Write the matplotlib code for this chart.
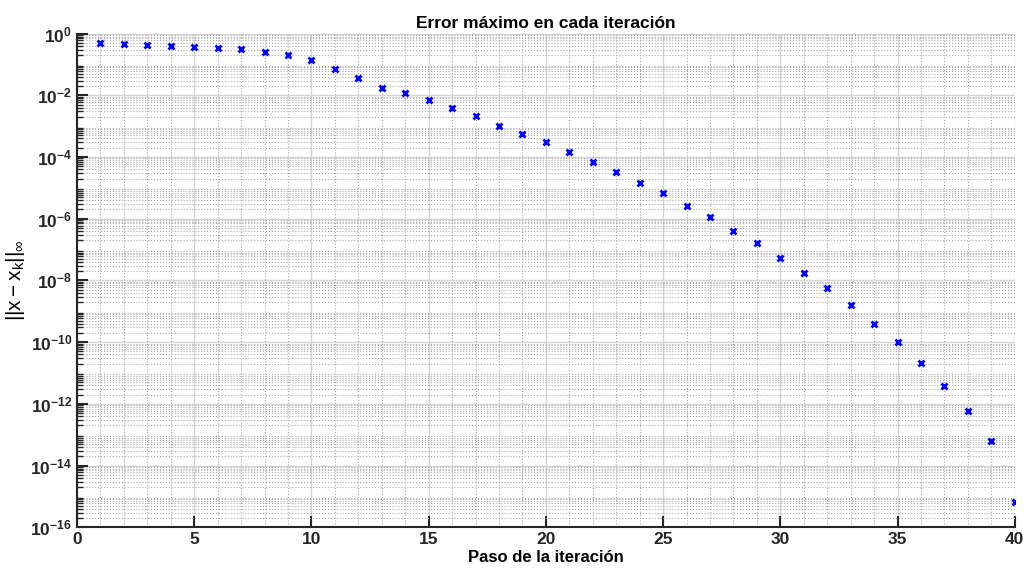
import numpy as np
import matplotlib
matplotlib.use('Agg')
import matplotlib.pyplot as plt
from matplotlib.ticker import LogLocator, MultipleLocator, FixedLocator, NullFormatter

plt.rcParams['font.family'] = ['Liberation Sans', 'DejaVu Sans']
plt.rcParams['mathtext.fontset'] = 'custom'
plt.rcParams['mathtext.rm'] = 'Liberation Sans'
plt.rcParams['mathtext.it'] = 'Liberation Sans'
plt.rcParams['mathtext.bf'] = 'Liberation Sans:bold'

# datos
pasos = np.arange(1, 41)
error = [0.48, 0.457, 0.434, 0.40, 0.373, 0.339, 0.307, 0.257, 0.201, 0.135,
         0.0734, 0.0353, 0.0175, 0.0115, 0.00699, 0.00394, 0.00212, 0.00102, 5.5e-4, 2.97e-4,
         1.41e-4, 6.8e-5, 3.3e-5, 1.4e-5, 6.6e-6, 2.6e-6, 1.1e-6, 4.1e-7, 1.6e-7, 5.4e-8,
         1.7e-8, 5.5e-9, 1.58e-9, 4.0e-10, 9.8e-11, 2.1e-11, 3.7e-12, 5.8e-13, 6.3e-14, 6.5e-16]

yticks = [10.0**e for e in range(0, -17, -2)]
ylabels = [r'$\mathbf{10^{%d}}$' % e for e in range(0, -17, -2)]
xticks = [0, 5, 10, 15, 20, 25, 30, 35, 40]

fig = plt.figure(figsize=(10.24, 5.76), dpi=100)
ax = fig.add_axes([0.0752, 0.0845, 0.9158, 0.8573])

ax.semilogy(pasos, error, 'x', color='blue', markersize=5, markeredgewidth=2)

ax.set_xlim(0, 40)
ax.set_ylim(1e-16, 1)
ax.set_xticks(xticks)
ax.xaxis.set_minor_locator(MultipleLocator(1))
ax.yaxis.set_major_locator(FixedLocator(yticks))
ax.set_yticklabels(ylabels)
ax.yaxis.set_minor_locator(LogLocator(base=10, subs=np.arange(2, 10), numticks=100))
ax.yaxis.set_minor_formatter(NullFormatter())

ax.grid(True, which='major', color='#d4d4d4', linestyle='-', linewidth=1.0)
ax.grid(True, which='minor', color='#aaaaaa', linestyle=':', linewidth=0.8)
ax.set_axisbelow(True)

for s in ['top', 'right']:
    ax.spines[s].set_visible(False)
for s in ['left', 'bottom']:
    ax.spines[s].set_linewidth(1.5)
    ax.spines[s].set_color('#262626')

ax.tick_params(which='major', direction='in', length=8, width=1.5, colors='#262626',
               labelsize=12.5)
ax.tick_params(axis='y', which='minor', direction='in', length=4, width=1.0, colors='#262626')
ax.tick_params(axis='x', which='minor', length=0)
for lab in ax.get_xticklabels():
    lab.set_fontweight('bold')

ax.set_title('Error máximo en cada iteración', fontsize=12.5, fontweight='bold', pad=4)
ax.set_xlabel('Paso de la iteración', fontsize=12, fontweight='bold', labelpad=2)
ax.set_ylabel(r'$||\mathrm{x} - \mathrm{x}_\mathrm{k}||_\infty$', fontsize=15, labelpad=2)

fig.savefig('out.png', dpi=100)
